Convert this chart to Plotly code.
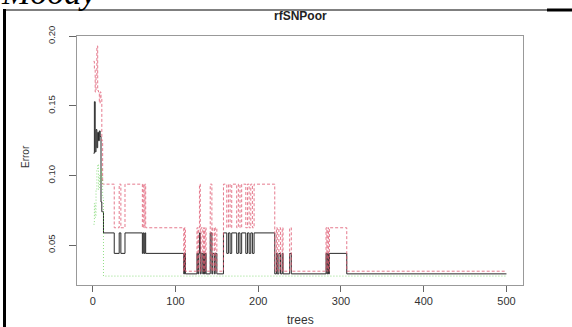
import plotly.graph_objects as go

# ---- data (randomForest error rates vs number of trees) ----
# early trees, one value per tree
early_trees = [1, 2, 3, 4, 5, 6, 7, 8, 9, 10, 11, 12]
early_oob = [0.116, 0.153, 0.117, 0.133, 0.120, 0.131, 0.125, 0.132, 0.128, 0.081, 0.074, 0.074]
early_c1 = [0.182, 0.176, 0.160, 0.172, 0.193, 0.161, 0.160, 0.152, 0.160, 0.156, 0.125, 0.0938]
early_c2 = [0.065, 0.080, 0.070, 0.090, 0.105, 0.108, 0.090, 0.100, 0.095, 0.105, 0.100, 0.084]

# later trees: change points of the step-like curves
step_trees = [13, 26, 32, 34, 39, 60, 61, 62, 63, 64,
              110, 111, 112, 126, 127, 128, 129, 130, 131, 133, 134, 135, 136, 137,
              142, 144, 145, 147, 148, 150,
              158, 162, 164, 166, 168, 174, 176, 178, 180, 185, 187, 189, 191, 193, 195,
              220, 222, 223, 225, 227, 229, 230, 238, 240,
              282, 283, 284, 285, 286, 307, 500]
step_oob = [0.0588, 0.0441, 0.0588, 0.0441, 0.0588, 0.0441, 0.0588, 0.0441, 0.0588, 0.0441,
            0.0294, 0.0441, 0.0294, 0.0441, 0.0294, 0.0441, 0.0588, 0.0294, 0.0441, 0.0294, 0.0441, 0.0294, 0.0441, 0.0294,
            0.0588, 0.0294, 0.0441, 0.0294, 0.0441, 0.0294,
            0.0588, 0.0441, 0.0588, 0.0441, 0.0588, 0.0441, 0.0588, 0.0441, 0.0588, 0.0441, 0.0588, 0.0441, 0.0588, 0.0441, 0.0588,
            0.0294, 0.0441, 0.0294, 0.0441, 0.0294, 0.0441, 0.0294, 0.0441, 0.0294,
            0.0441, 0.0294, 0.0441, 0.0294, 0.0441, 0.0294, 0.0294]
step_c1 = [0.0938, 0.0625, 0.0938, 0.0625, 0.0938, 0.0625, 0.0938, 0.0625, 0.0938, 0.0625,
           0.0313, 0.0625, 0.0313, 0.0625, 0.0313, 0.0625, 0.0938, 0.0313, 0.0625, 0.0313, 0.0625, 0.0313, 0.0625, 0.0313,
           0.0938, 0.0313, 0.0625, 0.0313, 0.0625, 0.0313,
           0.0938, 0.0625, 0.0938, 0.0625, 0.0938, 0.0625, 0.0938, 0.0625, 0.0938, 0.0625, 0.0938, 0.0625, 0.0938, 0.0625, 0.0938,
           0.0313, 0.0625, 0.0313, 0.0625, 0.0313, 0.0625, 0.0313, 0.0625, 0.0313,
           0.0625, 0.0313, 0.0625, 0.0313, 0.0625, 0.0313, 0.0313]
c2_trees = [13, 500]
c2_vals = [0.0278, 0.0278]

x_ticks = [0, 100, 200, 300, 400, 500]
y_ticks = [0.05, 0.10, 0.15, 0.20]
y_tick_text = ["0.05", "0.10", "0.15", "0.20"]

# ---- layout geometry (pixels) ----
W, H = 572, 327
L, R, T, B = 77, 523, 36, 285


def px(xp):
    return (xp - L) / (R - L)


def py(yp):
    return (B - yp) / (B - T)


FONT = "Liberation Sans, Arial, sans-serif"

fig = go.Figure()
fig.add_trace(go.Scatter(x=early_trees + step_trees, y=early_oob + step_oob, mode="lines",
                         line=dict(color="#2a2a2a", width=1, shape="hv"), showlegend=False))
fig.add_trace(go.Scatter(x=early_trees + step_trees, y=early_c1 + step_c1, mode="lines",
                         line=dict(color="#E05A72", width=1, dash="3px,2px", shape="hv"),
                         opacity=0.8, showlegend=False))
fig.add_trace(go.Scatter(x=early_trees + c2_trees, y=early_c2 + c2_vals, mode="lines",
                         line=dict(color="#61D04F", width=1, dash="1px,2px", shape="hv"),
                         opacity=0.7, showlegend=False))

fig.update_layout(
    width=W, height=H,
    margin=dict(l=L, r=W - R, t=T, b=H - B, pad=0),
    paper_bgcolor="white", plot_bgcolor="white",
    font=dict(family=FONT, color="#333"),
    xaxis=dict(range=[-19, 520], tickvals=x_ticks, ticks="outside", ticklen=6, tickcolor="#666",
               showline=True, mirror=True, linecolor="#999", linewidth=1, showgrid=False,
               zeroline=False, tickfont=dict(size=11, color="#333")),
    yaxis=dict(range=[0.0214, 0.2002], tickvals=y_ticks, ticktext=y_tick_text, ticks="outside",
               ticklen=7, tickcolor="#666", tickangle=-90, ticklabelstandoff=10,
               showline=True, mirror=True, linecolor="#999", linewidth=1, showgrid=False,
               zeroline=False, tickfont=dict(size=9.5, color="#333")),
    annotations=[
        dict(text="<b>rfSNPoor</b>", xref="paper", yref="paper", x=px(300), y=py(16),
             xanchor="center", yanchor="middle", showarrow=False, font=dict(size=12, color="#222")),
        dict(text="trees", xref="paper", yref="paper", x=px(300), y=py(320),
             xanchor="center", yanchor="middle", showarrow=False, font=dict(size=12, color="#333")),
        dict(text="Error", xref="paper", yref="paper", x=px(25), y=py(157), textangle=-90,
             xanchor="center", yanchor="middle", showarrow=False, font=dict(size=10, color="#333")),
        dict(text="<i>Moody</i>", xref="paper", yref="paper", x=px(-1), y=py(13),
             xanchor="left", yanchor="bottom", showarrow=False,
             font=dict(size=34, color="black", family="Liberation Serif, Times New Roman, serif")),
    ],
    shapes=[
        dict(type="line", xref="paper", yref="paper", x0=px(4.5), x1=px(4.5), y0=py(9), y1=py(330),
             line=dict(color="black", width=3)),
        dict(type="line", xref="paper", yref="paper", x0=px(3), x1=px(572), y0=py(10), y1=py(10),
             line=dict(color="black", width=1)),
        dict(type="line", xref="paper", yref="paper", x0=px(547), x1=px(572), y0=py(10), y1=py(10),
             line=dict(color="black", width=3)),
    ],
)

fig.write_html("out.html")
